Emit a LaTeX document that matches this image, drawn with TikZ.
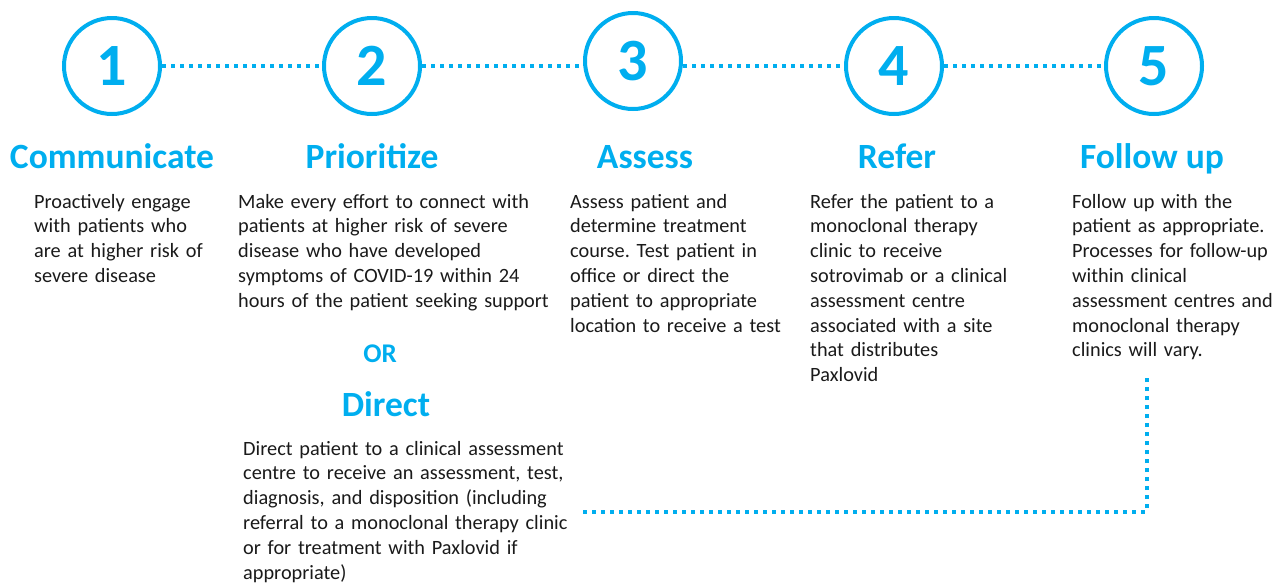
\documentclass[tikz,border=0pt]{standalone}
\usepackage{fontspec}
\setmainfont{Carlito}
\usetikzlibrary{positioning}
\frenchspacing

\definecolor{stepblue}{HTML}{00AEEF}
\definecolor{bodygrey}{HTML}{1A1A1A}

\tikzset{
  stepcircle/.style={circle, draw=stepblue, line width=4pt, minimum size=96pt,
    inner sep=0pt, text=stepblue, font=\fontsize{60}{60}\selectfont\bfseries},
  steptitle/.style={text=stepblue, inner sep=0pt, anchor=base,
    font=\fontsize{35.5}{38}\selectfont\bfseries},
  steptext/.style={text=bodygrey, inner sep=0pt, anchor=base west, align=left,
    text width=#1, font=\fontsize{20.3}{24.8}\selectfont},
  steptext/.default=360pt,
  dotline/.style={draw=stepblue, line width=4pt, dash pattern=on 4pt off 5pt}
}

\begin{document}
\begin{tikzpicture}[x=1pt,y=-1pt]
  \useasboundingbox (0,0) rectangle (1276,582);

  % numbered steps
  \node[stepcircle] (c1) at (112,66) {1};
  \node[stepcircle] (c2) at (372,66) {2};
  \node[stepcircle] (c3) at (633,61) {3};
  \node[stepcircle] (c4) at (894,66) {4};
  \node[stepcircle] (c5) at (1154,66) {5};

  \draw[dotline] (c1.east) -- (c2.west);
  \draw[dotline] (c2.east) -- (c3.west |- c2.east);
  \draw[dotline] (c3.east |- c4.west) -- (c4.west);
  \draw[dotline] (c4.east) -- (c5.west);

  % titles
  \node[steptitle] (t1) at (112,168) {Communicate};
  \node[steptitle] (t2) at (372,168) {Prioritize};
  \node[steptitle] (t3) at (645,168) {Assess};
  \node[steptitle] (t4) at (897,168) {Refer};
  \node[steptitle] (t5) at (1152,168) {Follow up};

  % descriptions
  \node[steptext] (b1) at (34,208) {Proactively engage\\with patients who\\are at higher risk of\\severe disease};
  \node[steptext] (b2) at (238,208) {Make every effort to connect with\\patients at higher risk of severe\\disease who have developed\\symptoms of COVID-19 within 24\\hours of the patient seeking support};
  \node[steptext] (b3) at (570,208) {Assess patient and\\determine treatment\\course. Test patient in\\office or direct the\\patient to appropriate\\location to receive a test};
  \node[steptext] (b4) at (810,208) {Refer the patient to a\\monoclonal therapy\\clinic to receive\\sotrovimab or a clinical\\assessment centre\\associated with a site\\that distributes\\Paxlovid};
  \node[steptext] (b5) at (1072,208) {Follow up with the\\patient as appropriate.\\Processes for follow-up\\within clinical\\assessment centres and\\monoclonal therapy\\clinics will vary.};

  % alternative route
  \node[steptitle, font=\fontsize{27}{29}\selectfont\bfseries] (or) at (380,362) {OR};
  \node[steptitle] (t6) at (386,416) {Direct};
  \node[steptext=340pt] (b6) at (243,455) {Direct patient to a clinical assessment\\centre to receive an assessment, test,\\diagnosis, and disposition (including\\referral to a monoclonal therapy clinic\\or for treatment with Paxlovid if\\appropriate)};

  \coordinate (back) at (1147,377);
  \draw[dotline] (b6.east) -| (back);
\end{tikzpicture}
\end{document}
